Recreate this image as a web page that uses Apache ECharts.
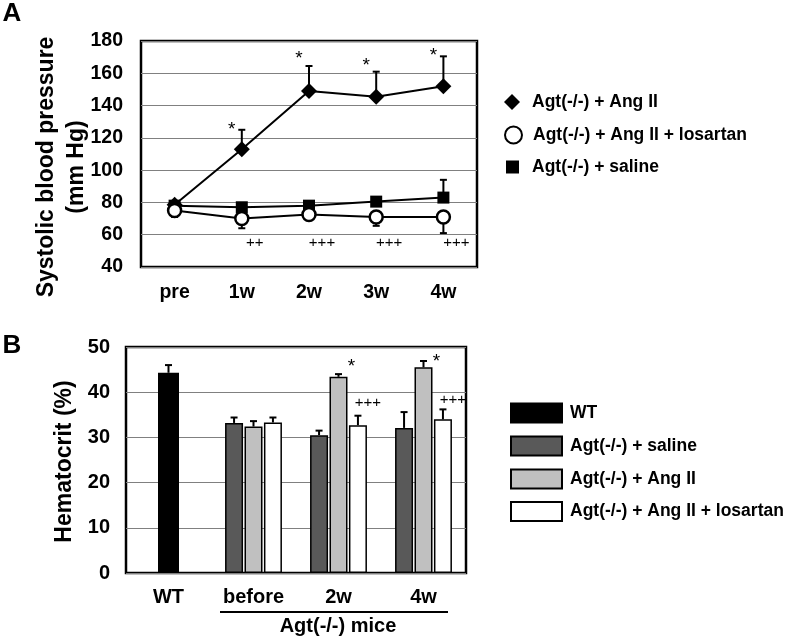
<!DOCTYPE html>
<html>
<head>
<meta charset="utf-8">
<script src="https://cdn.jsdelivr.net/npm/echarts@6/dist/echarts.min.js"></script>
<style>
html,body{margin:0;padding:0;background:#fff;}
#chart{width:788px;height:638px;}
</style>
</head>
<body>
<div id="chart"></div>
<script>
// ---------- Panel A data: systolic blood pressure ----------
const bpCategories = ['pre', '1w', '2w', '3w', '4w'];
const bpYTicks = [40, 60, 80, 100, 120, 140, 160, 180];
const bpAngII = [78.5, 113, 149, 145.5, 152];
const bpAngIIErr = [1.5, 12, 15.5, 15.5, 18.5];      // upward
const bpLosartan = [75, 70, 72.5, 71, 71];
const bpLosartanErr = [4, 6, 1.5, 5.5, 10];          // downward
const bpSaline = [78, 77, 78, 80.5, 83];
const bpSalineErr = [1.5, 1.5, 1.5, 2, 11];          // upward
const bpStarLevels = [null, 125, 169, 164.6, 170.8];
const bpPlusLabels = ['', '++', '+++', '+++', '+++'];
const bpPlusLevel = 55;

// ---------- Panel B data: hematocrit ----------
const hctCategories = ['WT', 'before', '2w', '4w'];
const hctWT = [44.3, '-', '-', '-'];
const hctWTErr = [1.7, 0, 0, 0];
const hctSaline = ['-', 33.2, 30.5, 32.1];
const hctSalineErr = [0, 1.2, 1.0, 3.5];
const hctAngII = ['-', 32.4, 43.4, 45.5];
const hctAngIIErr = [0, 1.2, 0.6, 1.4];
const hctLosartan = ['-', 33.3, 32.7, 34.0];
const hctLosartanErr = [0, 1.1, 2.1, 2.2];
const hctStarLevels = [null, null, 45.7, 46.8];
const hctPlusLevels = [null, null, 37.7, 38.3];

const NAME_ANG = 'Agt(-/-) + Ang II';
const NAME_LOS = 'Agt(-/-) + Ang II + losartan';
const NAME_SAL = 'Agt(-/-) + saline';
const NAME_WT = 'WT';

const FONT = '"Liberation Sans", Arial, Helvetica, sans-serif';
const BAR_W = 18;
const BAR_GAP_PX = 1.44;

// build error-bar items
function errItems(vals, errs, dir, slot) {
  const out = [];
  vals.forEach((v, i) => {
    if (v === '-' || v == null || !errs[i]) return;
    out.push([i, v, v + dir * errs[i], slot]);
  });
  return out;
}
const bpErrData = [].concat(
  errItems(bpSaline, bpSalineErr, 1, 0),
  errItems(bpAngII, bpAngIIErr, 1, 0),
  errItems(bpLosartan, bpLosartanErr, -1, 0)
);
const hctErrData = [].concat(
  errItems(hctWT, hctWTErr, 1, -9),
  errItems(hctSaline, hctSalineErr, 1, -1),
  errItems(hctAngII, hctAngIIErr, 1, 0),
  errItems(hctLosartan, hctLosartanErr, 1, 1)
);

function errRender(capW, lw) {
  return function (params, api) {
    const slot = api.value(3);
    const off = slot === -9 ? 0 : slot * (BAR_W + BAR_GAP_PX);
    const a = api.coord([api.value(0), api.value(1)]);
    const b = api.coord([api.value(0), api.value(2)]);
    const x = a[0] + off;
    return {
      type: 'group',
      children: [
        {type: 'line', shape: {x1: x, y1: a[1], x2: x, y2: b[1]}, style: {stroke: '#000', lineWidth: lw}},
        {type: 'line', shape: {x1: x - capW / 2, y1: b[1], x2: x + capW / 2, y2: b[1]}, style: {stroke: '#000', lineWidth: lw}}
      ]
    };
  };
}

// annotations
const bpStarData = [];
bpStarLevels.forEach((v, i) => { if (v != null) bpStarData.push([i, v]); });
const bpPlusData = [];
bpPlusLabels.forEach((t, i) => { if (t) bpPlusData.push([i, bpPlusLevel, i]); });
const hctStarData = [];
hctStarLevels.forEach((v, i) => { if (v != null) hctStarData.push([i, v]); });
const hctPlusData = [];
hctPlusLevels.forEach((v, i) => { if (v != null) hctPlusData.push([i, v]); });

function textRender(getText, dx, fontSize) {
  return function (params, api) {
    const p = api.coord([api.value(0), api.value(1)]);
    return {
      type: 'text', x: p[0] + dx, y: p[1],
      style: {text: getText(params, api), fill: '#000', font: 'normal ' + fontSize + 'px ' + FONT,
              textAlign: 'center', textVerticalAlign: 'middle'}
    };
  };
}

const chart = echarts.init(document.getElementById('chart'), null, {renderer: 'canvas'});

const axisLabelA = {color: '#000', fontWeight: 'bold', fontFamily: FONT, fontSize: 19.5};
const axisLabelB = {color: '#000', fontWeight: 'bold', fontFamily: FONT, fontSize: 20};
const legendText = {color: '#000', fontWeight: 'bold', fontFamily: FONT, fontSize: 17.5};

function lg(name, icon, left, top, w, h, itemStyle, textLeft) {
  return {
    data: [{name: name, icon: icon, itemStyle: itemStyle}],
    left: left, top: top, itemWidth: w, itemHeight: h, padding: 0,
    selectedMode: false, orient: 'vertical',
    textStyle: Object.assign({padding: [0, 0, 0, textLeft - (left + w + 5)]}, legendText)
  };
}

const option = {
  animation: false,
  backgroundColor: '#fff',
  grid: [
    {left: 141, top: 41, width: 336, height: 226, show: true, borderColor: '#000', borderWidth: 2.5, backgroundColor: '#fff'},
    {left: 126, top: 347, width: 340, height: 226, show: true, borderColor: '#000', borderWidth: 2.5, backgroundColor: '#fff'}
  ],
  xAxis: [
    {gridIndex: 0, type: 'category', data: bpCategories, axisLine: {show: false}, axisTick: {show: false},
     axisLabel: Object.assign({margin: 16}, axisLabelA)},
    {gridIndex: 1, type: 'category', data: hctCategories, axisLine: {show: false}, axisTick: {show: false},
     axisLabel: Object.assign({margin: 14}, axisLabelB)},
    {gridIndex: 1, type: 'category', data: hctCategories, show: false}
  ],
  yAxis: [
    {gridIndex: 0, type: 'value', min: bpYTicks[0], max: bpYTicks[bpYTicks.length - 1], interval: 20,
     axisLine: {show: false}, axisTick: {show: false},
     splitLine: {lineStyle: {color: '#808080', width: 1}},
     axisLabel: Object.assign({margin: 18}, axisLabelA)},
    {gridIndex: 1, type: 'value', min: 0, max: 50, interval: 10,
     axisLine: {show: false}, axisTick: {show: false},
     splitLine: {lineStyle: {color: '#808080', width: 1}},
     axisLabel: Object.assign({margin: 16}, axisLabelB)}
  ],
  legend: [
    lg(NAME_ANG, 'diamond', 504, 93, 16, 16, {color: '#000', borderWidth: 0}, 532),
    lg(NAME_LOS, 'circle', 504, 125.5, 17, 17, {color: '#fff', borderColor: '#000', borderWidth: 2}, 532),
    lg(NAME_SAL, 'rect', 506, 158, 13, 13, {color: '#000', borderWidth: 0}, 532),
    lg(NAME_WT, 'rect', 510, 402.5, 51, 19, {color: '#000', borderColor: '#000', borderWidth: 2}, 569),
    lg(NAME_SAL, 'rect', 510, 435.5, 51, 19, {color: '#595959', borderColor: '#000', borderWidth: 2}, 569),
    lg(NAME_ANG, 'rect', 510, 468.5, 51, 19, {color: '#c0c0c0', borderColor: '#000', borderWidth: 2}, 569),
    lg(NAME_LOS, 'rect', 510, 501, 51, 19, {color: '#fff', borderColor: '#000', borderWidth: 2}, 569)
  ],
  graphic: [
    {type: 'text', x: 12, y: 13.5, style: {text: 'A', font: 'bold 26px ' + FONT, fill: '#000', textAlign: 'center', textVerticalAlign: 'middle'}},
    {type: 'text', x: 12, y: 345.5, style: {text: 'B', font: 'bold 26px ' + FONT, fill: '#000', textAlign: 'center', textVerticalAlign: 'middle'}},
    {type: 'text', x: 62, y: 167, rotation: Math.PI / 2,
     style: {text: 'Systolic blood pressure\n(mm Hg)', font: 'bold 23px ' + FONT, lineHeight: 30, fill: '#000', textAlign: 'center', textVerticalAlign: 'middle'}},
    {type: 'text', x: 65, y: 461.5, rotation: Math.PI / 2,
     style: {text: 'Hematocrit (%)', font: 'bold 23px ' + FONT, fill: '#000', textAlign: 'center', textVerticalAlign: 'middle'}},
    {type: 'line', shape: {x1: 220, y1: 612, x2: 448, y2: 612}, style: {stroke: '#000', lineWidth: 2}},
    {type: 'text', x: 338, y: 626, style: {text: 'Agt(-/-) mice', font: 'bold 20px ' + FONT, fill: '#000', textAlign: 'center', textVerticalAlign: 'middle'}}
  ],
  series: [
    {type: 'custom', name: 'bpErr', xAxisIndex: 0, yAxisIndex: 0, z: 1, data: bpErrData,
     renderItem: errRender(7, 2), silent: true},
    {type: 'line', name: NAME_SAL, xAxisIndex: 0, yAxisIndex: 0, data: bpSaline, z: 3,
     symbol: 'rect', symbolSize: 12, showSymbol: true,
     itemStyle: {color: '#000'}, lineStyle: {color: '#000', width: 2}, emphasis: {disabled: true}},
    {type: 'line', name: NAME_ANG, xAxisIndex: 0, yAxisIndex: 0, data: bpAngII, z: 4,
     symbol: 'diamond', symbolSize: 16, showSymbol: true,
     itemStyle: {color: '#000'}, lineStyle: {color: '#000', width: 2}, emphasis: {disabled: true}},
    {type: 'line', name: NAME_LOS, xAxisIndex: 0, yAxisIndex: 0, data: bpLosartan, z: 5,
     symbol: 'circle', symbolSize: 13, showSymbol: true,
     itemStyle: {color: '#fff', borderColor: '#000', borderWidth: 2.5}, lineStyle: {color: '#000', width: 2}, emphasis: {disabled: true}},
    {type: 'custom', name: 'bpStars', xAxisIndex: 0, yAxisIndex: 0, z: 6, data: bpStarData, silent: true,
     renderItem: textRender(() => '*', -10, 19)},
    {type: 'custom', name: 'bpPlus', xAxisIndex: 0, yAxisIndex: 0, z: 6, data: bpPlusData, silent: true,
     renderItem: textRender((p, api) => bpPlusLabels[api.value(2)], 13, 15)},

    {type: 'bar', name: NAME_WT, xAxisIndex: 2, yAxisIndex: 1, data: hctWT, barWidth: 21,
     itemStyle: {color: '#000', borderColor: '#000', borderWidth: 1.5}, emphasis: {disabled: true}},
    {type: 'bar', name: NAME_SAL, xAxisIndex: 1, yAxisIndex: 1, data: hctSaline, barWidth: BAR_W, barGap: '8%',
     itemStyle: {color: '#595959', borderColor: '#000', borderWidth: 1.5}, emphasis: {disabled: true}},
    {type: 'bar', name: NAME_ANG, xAxisIndex: 1, yAxisIndex: 1, data: hctAngII, barWidth: BAR_W, barGap: '8%',
     itemStyle: {color: '#c0c0c0', borderColor: '#000', borderWidth: 1.5}, emphasis: {disabled: true}},
    {type: 'bar', name: NAME_LOS, xAxisIndex: 1, yAxisIndex: 1, data: hctLosartan, barWidth: BAR_W, barGap: '8%',
     itemStyle: {color: '#fff', borderColor: '#000', borderWidth: 1.5}, emphasis: {disabled: true}},
    {type: 'custom', name: 'hctErr', xAxisIndex: 1, yAxisIndex: 1, z: 1, data: hctErrData, silent: true,
     renderItem: errRender(7, 2)},
    {type: 'custom', name: 'hctStars', xAxisIndex: 1, yAxisIndex: 1, z: 6, data: hctStarData, silent: true,
     renderItem: textRender(() => '*', 13, 19)},
    {type: 'custom', name: 'hctPlus', xAxisIndex: 1, yAxisIndex: 1, z: 6, data: hctPlusData, silent: true,
     renderItem: textRender(() => '+++', (BAR_W + BAR_GAP_PX) + 10, 15)}
  ]
};
chart.setOption(option);
</script>
</body>
</html>
